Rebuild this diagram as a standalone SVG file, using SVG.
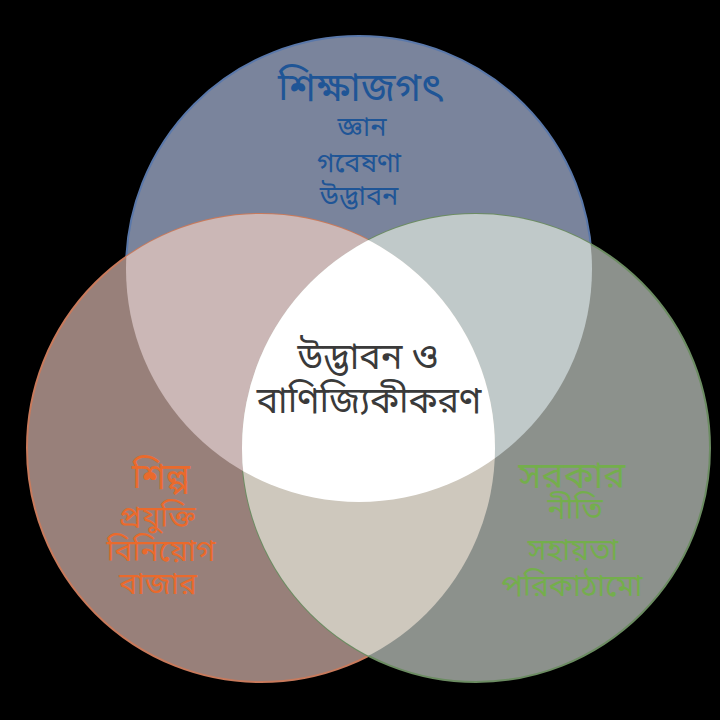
<svg xmlns="http://www.w3.org/2000/svg" width="720" height="720" viewBox="0 0 720 720">
  <defs>
    <clipPath id="clipTop"><circle cx="359" cy="269" r="233"/></clipPath>
    <clipPath id="clipLeft"><circle cx="261" cy="448" r="234"/></clipPath>
    <clipPath id="clipRight"><circle cx="476" cy="448" r="234"/></clipPath>
  </defs>
  <style>
    text { font-family: "Noto Sans Bengali", "Noto Sans", "Lohit Bengali", "FreeSans", sans-serif; text-anchor: middle; }
    .t-title { font-size: 40px; fill: #1f5596; }
    .t-item { font-size: 27px; fill: #1f5596; }
    .l-title { font-size: 36px; fill: #ea6a2c; }
    .l-item { font-size: 30px; fill: #ea6a2c; }
    .r-title { font-size: 37px; fill: #74ae4c; }
    .r-item { font-size: 30px; fill: #74ae4c; }
    .c-text { font-size: 36px; fill: #3a3a3a; }
  </style>
  <rect width="720" height="720" fill="#000000"/>

  <g id="circle-academia">
    <circle cx="359" cy="269" r="233" fill="#7a849c" stroke="#5a78aa" stroke-width="2"/>
  </g>
  <g id="circle-industry">
    <circle cx="261" cy="448" r="234" fill="#98807a" stroke="#c87a5c" stroke-width="2"/>
  </g>
  <g id="circle-government">
    <circle cx="476" cy="448" r="234" fill="#8c918c" stroke="#6c8c62" stroke-width="2"/>
  </g>

  <g id="overlaps">
    <circle cx="261" cy="448" r="234" fill="#cbb7b6" clip-path="url(#clipTop)"/>
    <circle cx="476" cy="448" r="234" fill="#c0c9c9" clip-path="url(#clipTop)"/>
    <circle cx="476" cy="448" r="234" fill="#cec8bd" clip-path="url(#clipLeft)"/>
    <g clip-path="url(#clipTop)">
      <circle cx="476" cy="448" r="234" fill="#ffffff" clip-path="url(#clipLeft)"/>
    </g>
  </g>

  <g id="label-academia">
    <text class="t-title" x="360" y="101">শিক্ষাজগৎ</text>
    <text class="t-item" x="362" y="136">জ্ঞান</text>
    <text class="t-item" x="359" y="172">গবেষণা</text>
    <text class="t-item" x="359" y="205">উদ্ভাবন</text>
  </g>
  <g id="label-industry">
    <text class="l-title" x="161" y="489">শিল্প</text>
    <text class="l-item" x="157" y="527">প্রযুক্তি</text>
    <text class="l-item" x="161" y="561">বিনিয়োগ</text>
    <text class="l-item" x="158" y="594">বাজার</text>
  </g>
  <g id="label-government">
    <text class="r-title" x="572" y="488">সরকার</text>
    <text class="r-item" x="575" y="519">নীতি</text>
    <text class="r-item" x="573" y="560">সহায়তা</text>
    <text class="r-item" x="572" y="596">পরিকাঠামো</text>
  </g>
  <g id="label-center">
    <text class="c-text" x="368" y="369">উদ্ভাবন ও</text>
    <text class="c-text" x="369" y="413">বাণিজ্যিকীকরণ</text>
  </g>
</svg>
